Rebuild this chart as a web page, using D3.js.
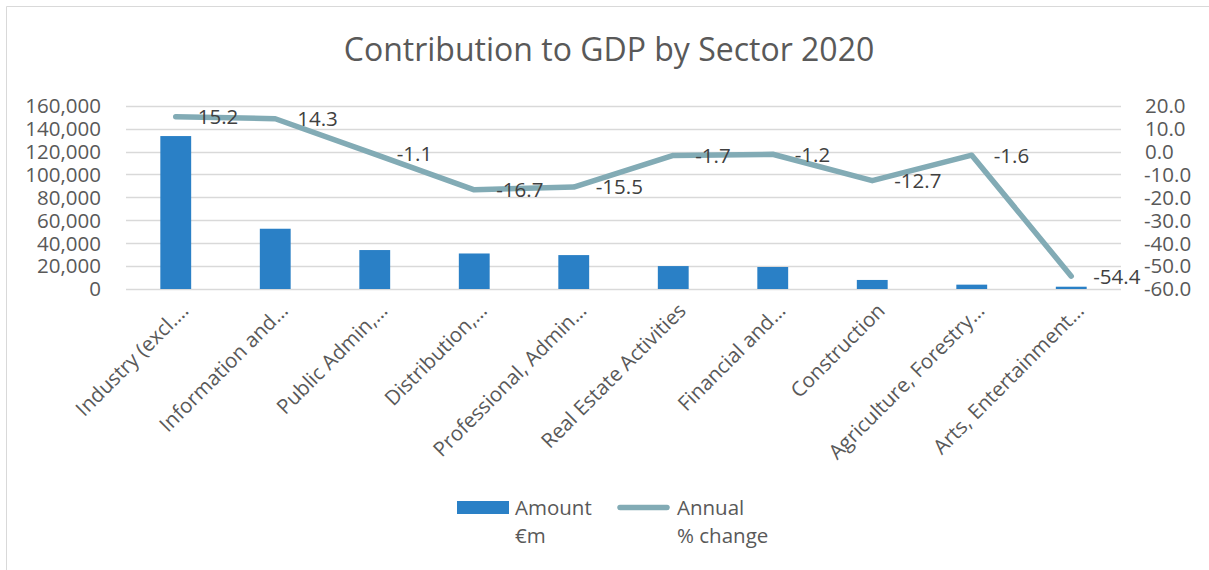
<!DOCTYPE html>
<html lang="en">
<head>
    <meta charset="UTF-8">
    <title>Contribution to GDP by Sector 2020</title>
    <script src="https://d3js.org/d3.v7.min.js"></script>
    <style>
        body { margin: 0; background: #fff; }
        svg { display: block; font-family: "Open Sans", sans-serif; }
        .grid line { stroke: #d9d9d9; stroke-width: 1.3; }
        .tick-label { fill: #595959; font-size: 20.5px; }
        .data-label { fill: #404040; font-size: 20.5px; }
    </style>
</head>
<body>
    <svg id="chart" width="1209" height="570"></svg>
    <script>
        // data
        const sectors = [
            "Industry (excl.\u2026", "Information and\u2026", "Public Admin,\u2026", "Distribution,\u2026",
            "Professional, Admin\u2026", "Real Estate Activities", "Financial and\u2026", "Construction",
            "Agriculture, Forestry\u2026", "Arts, Entertainment\u2026"
        ];
        const amounts = [133500, 52600, 34000, 31000, 29600, 20000, 19200, 7900, 3800, 2000];
        const pctChange = [15.2, 14.3, -1.1, -16.7, -15.5, -1.7, -1.2, -12.7, -1.6, -54.4];
        const leftTicks = [0, 20000, 40000, 60000, 80000, 100000, 120000, 140000, 160000];
        const rightTicks = [20, 10, 0, -10, -20, -30, -40, -50, -60];

        const barColor = "#2a80c6";
        const lineColor = "#82abb5";

        const svg = d3.select("#chart");
        const plot = { left: 126, right: 1121, top: 105.7, bottom: 289 };

        // chart border (only top and left edges are in frame)
        svg.append("path")
            .attr("d", "M6.5,570V6.5H1209")
            .attr("fill", "none")
            .attr("stroke", "#d9d9d9");

        // title
        svg.append("text")
            .attr("x", 609).attr("y", 61)
            .attr("text-anchor", "middle")
            .attr("fill", "#595959")
            .attr("font-size", "32px")
            .text("Contribution to GDP by Sector 2020");

        // scales
        const x = d3.scaleBand()
            .domain(sectors)
            .range([plot.left, plot.right])
            .paddingInner(0.69)
            .paddingOuter(0.345);
        const xc = d => x(d) + x.bandwidth() / 2;

        const yLeft = d3.scaleLinear()
            .domain([0, 160000])
            .range([plot.bottom, plot.top]);
        const yRight = d3.scaleLinear()
            .domain([-60, 20])
            .range([plot.bottom, plot.top]);

        // gridlines
        svg.append("g")
            .attr("class", "grid")
            .selectAll("line")
            .data(leftTicks)
            .join("line")
            .attr("x1", plot.left).attr("x2", plot.right)
            .attr("y1", d => Math.round(yLeft(d)) + 0.5)
            .attr("y2", d => Math.round(yLeft(d)) + 0.5);

        // left axis labels
        const fmt = d3.format(",");
        svg.append("g")
            .selectAll("text")
            .data(leftTicks)
            .join("text")
            .attr("class", "tick-label")
            .attr("x", 101)
            .attr("y", d => yLeft(d))
            .attr("dy", "0.36em")
            .attr("text-anchor", "end")
            .text(d => fmt(d));

        // right axis labels
        svg.append("g")
            .selectAll("text")
            .data(rightTicks)
            .join("text")
            .attr("class", "tick-label")
            .attr("x", d => d < 0 ? 1144 : 1145)
            .attr("y", d => yRight(d))
            .attr("dy", "0.36em")
            .attr("text-anchor", "start")
            .text(d => d.toFixed(1));

        // bars
        svg.append("g")
            .selectAll("rect")
            .data(amounts)
            .join("rect")
            .attr("x", (d, i) => x(sectors[i]))
            .attr("y", d => yLeft(d))
            .attr("width", x.bandwidth())
            .attr("height", d => yLeft(0) - yLeft(d))
            .attr("fill", barColor);

        // category labels, rotated
        svg.append("g")
            .selectAll("text")
            .data(sectors)
            .join("text")
            .attr("class", "tick-label")
            .attr("text-anchor", "end")
            .attr("transform", d => `translate(${xc(d) + 14},${plot.bottom + 23}) rotate(-45)`)
            .text(d => d);

        // % change line
        const line = d3.line()
            .x((d, i) => xc(sectors[i]))
            .y(d => yRight(d));
        svg.append("path")
            .datum(pctChange)
            .attr("d", line)
            .attr("fill", "none")
            .attr("stroke", lineColor)
            .attr("stroke-width", 5.5)
            .attr("stroke-linecap", "round")
            .attr("stroke-linejoin", "round");

        // data labels to the right of each point
        svg.append("g")
            .selectAll("text")
            .data(pctChange)
            .join("text")
            .attr("class", "data-label")
            .attr("x", (d, i) => xc(sectors[i]) + 22)
            .attr("y", d => yRight(d))
            .attr("dy", "0.36em")
            .text(d => d.toFixed(1));

        // legend
        const legend = svg.append("g").attr("class", "legend");
        legend.append("rect")
            .attr("x", 457).attr("y", 501)
            .attr("width", 52).attr("height", 13)
            .attr("fill", barColor);
        legend.append("text")
            .attr("class", "tick-label")
            .attr("x", 515).attr("y", 515)
            .selectAll("tspan")
            .data(["Amount", "\u20acm"])
            .join("tspan")
            .attr("x", 515)
            .attr("dy", (d, i) => i ? 28 : 0)
            .text(d => d);
        legend.append("line")
            .attr("x1", 620).attr("x2", 667)
            .attr("y1", 507.5).attr("y2", 507.5)
            .attr("stroke", lineColor)
            .attr("stroke-width", 5.5)
            .attr("stroke-linecap", "round");
        legend.append("text")
            .attr("class", "tick-label")
            .attr("x", 677).attr("y", 515)
            .selectAll("tspan")
            .data(["Annual", "% change"])
            .join("tspan")
            .attr("x", 677)
            .attr("dy", (d, i) => i ? 28 : 0)
            .text(d => d);
    </script>
</body>
</html>
